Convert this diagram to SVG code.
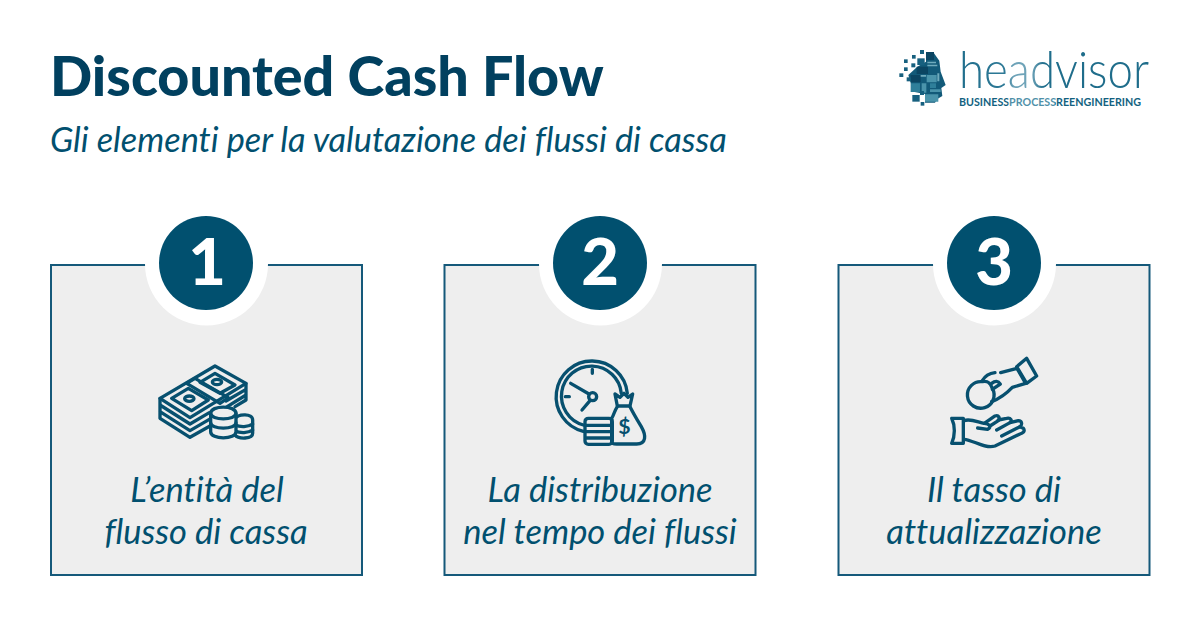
<svg xmlns="http://www.w3.org/2000/svg" width="1200" height="627" viewBox="0 0 1200 627">
<style>
.t{font-family:Lato,"Open Sans","Liberation Sans",sans-serif;font-variant-ligatures:none}
.box{fill:#eeeeee;stroke:#15597a;stroke-width:2}
.halo{fill:#fff}
.disc{fill:#01506f}
.num{font-size:65px;font-weight:900;fill:#fff;text-anchor:middle}
.lab{font-size:34.5px;font-style:italic;fill:#01506f;text-anchor:middle}
.ic{fill:none;stroke:#07506f;stroke-width:10;stroke-linecap:round;stroke-linejoin:round}
.f{fill:#eeeeee}
</style>
<defs>
<linearGradient id="hv" gradientUnits="userSpaceOnUse" x1="959" y1="0" x2="1149" y2="0">
<stop offset="0" stop-color="#1f6d8b"/><stop offset=".24" stop-color="#2f7a97"/><stop offset=".29" stop-color="#6ea3b8"/><stop offset=".38" stop-color="#6ea3b8"/><stop offset=".45" stop-color="#1f6d8b"/><stop offset="1" stop-color="#1f6d8b"/>
</linearGradient>
<linearGradient id="tag" gradientUnits="userSpaceOnUse" x1="959" y1="0" x2="1141" y2="0">
<stop offset="0" stop-color="#14607f"/><stop offset=".268" stop-color="#14607f"/><stop offset=".268" stop-color="#4f90a8"/><stop offset=".53" stop-color="#4f90a8"/><stop offset=".53" stop-color="#14607f"/><stop offset="1" stop-color="#14607f"/>
</linearGradient>
</defs>
<rect width="1200" height="627" fill="#fff"/>
<g id="header">
<text class="t" x="50" y="96" font-size="55.6" font-weight="900" fill="#01405f">Discounted Cash Flow</text>
<text class="t" x="50" y="152" font-size="34.3" font-style="italic" fill="#01506f">Gli elementi per la valutazione dei flussi di cassa</text>
</g>
<g id="logo">
<g transform="translate(880 30) scale(.3333)">
<path d="M138 66L162 70L178 92L182 125L197 165L184 174L187 198L172 207L165 218L135 218L135 192L100 185L85 135L112 110L138 95Z" fill="#125a79"/>
<path d="M138 66h24v24h-24zM110 110h34v22h-34zM92 135h30v22h-30z" fill="#0b4562"/>
<path d="M140 135h30v22h-30zM150 178h32v8h-32zM135 193h40v22h-40zM125 160h14v28h-14z" fill="#4a94ab"/>
<path d="M92 160h28v26h-28zM150 160h18v14h-18z" fill="#2f7f9a"/>
<path d="M142 95h26v5h-26M142 104h30v5h-30M122 135h16v5h-16M172 130h6v24h-6z" fill="#6fabbd"/>
<g fill="#17607f">
<rect x="120" y="60" width="12" height="12"/><rect x="96" y="75" width="11" height="11"/><rect x="72" y="88" width="11" height="11"/>
<rect x="112" y="85" width="22" height="20"/><rect x="94" y="100" width="12" height="12"/><rect x="72" y="112" width="11" height="11"/>
<rect x="58" y="130" width="12" height="11"/><rect x="80" y="142" width="12" height="12"/><rect x="120" y="183" width="12" height="12"/>
<rect x="97" y="195" width="22" height="20"/><rect x="122" y="216" width="11" height="11"/>
</g>
</g>
<text class="t" x="959" y="88" font-size="52" font-weight="300" fill="url(#hv)" textLength="190" lengthAdjust="spacingAndGlyphs">headvisor</text>
<text class="t" x="959" y="106" font-size="12" font-weight="700" fill="url(#tag)" textLength="182" lengthAdjust="spacingAndGlyphs">BUSINESSPROCESSREENGINEERING</text>
</g>

<g id="card-1">
<rect class="box" x="51" y="265" width="311" height="310"/>
<circle class="halo" cx="206.500" cy="264" r="61.500"/>
<circle class="disc" cx="206" cy="263" r="47"/>
<text class="t num" x="207" y="285">1</text>
<g transform="translate(140 350) scale(.3333)" class="ic">
<path d="M60 145L225 48L318 100L150 203Z"/>
<path d="M60 145V205L150 262L210 228M60 165L150 222L208 188M60 185L150 242L208 208"/>
<path d="M318 100V150L285 170M318 118L258 153M318 135L258 172"/>
<path d="M140 100L165 85L265 143L240 160Z"/>
<path d="M95 145L145 115L205 150L155 182ZM180 97L225 70L285 105L240 130Z"/>
<ellipse cx="148" cy="146" rx="14" ry="8"/><ellipse cx="231" cy="96" rx="14" ry="8"/>
<path class="f" d="M285 207C295 190 338 190 338 210V250C338 268 295 268 285 255Z"/>
<path d="M285 225C300 232 325 232 338 222M285 243C300 250 325 250 338 240"/>
<path class="f" d="M212 190C212 165 288 165 288 190V245C288 270 212 270 212 245Z"/>
<path d="M212 190C212 212 288 212 288 190M212 218C212 240 288 240 288 218"/>
</g>
<text class="t lab"><tspan x="207" y="502">L’entità del</tspan><tspan x="206" y="544">flusso di cassa</tspan></text>
</g>

<g id="card-2">
<rect class="box" x="444.500" y="265" width="311" height="310"/>
<circle class="halo" cx="600.500" cy="264" r="61.500"/>
<circle class="disc" cx="600" cy="263" r="47"/>
<text class="t num" x="600" y="285">2</text>
<g transform="translate(540 350) scale(.3333)" class="ic">
<path d="M130 244A107 107 0 1 1 262 130"/>
<path d="M130 225A90 90 0 1 1 244 130"/>
<path d="M157 58V70M76 140H88M92 100L147 132M126 180L150 152"/>
<circle cx="158" cy="140" r="12"/>
<path d="M225 132L240 142L252 130L264 142L278 132L270 168H232Z"/>
<path d="M232 170C222 185 222 195 215 205V275Q215 282 230 282H290C320 282 318 255 305 232C295 215 280 190 270 170"/>
<rect x="135" y="205" width="82" height="78" rx="10"/>
<path d="M137 226H215M137 245H215M137 264H215"/>
<text x="253" y="252" font-family="Lato,sans-serif" font-weight="700" font-size="64" fill="#07506f" stroke="none" text-anchor="middle">$</text>
</g>
<text class="t lab"><tspan x="600" y="502">La distribuzione</tspan><tspan x="600" y="544">nel tempo dei flussi</tspan></text>
</g>

<g id="card-3">
<rect class="box" x="838.500" y="265" width="311" height="310"/>
<circle class="halo" cx="994.500" cy="264" r="61.500"/>
<circle class="disc" cx="994" cy="263" r="47"/>
<text class="t num" x="994" y="285">3</text>
<g transform="translate(935 350) scale(.3333)" class="ic">
<path d="M245 50L275 25L305 78L275 100Z"/>
<path d="M197 68L246 55L272 100L232 112C215 130 195 145 170 155"/>
<path d="M180 68C165 70 150 78 142 92"/>
<path d="M170 100C180 92 190 92 196 102L172 118"/>
<path d="M172 115A40 40 0 1 1 142 95C155 92 165 95 172 115"/>
<path d="M50 205H85V280H50Q58 262 58 242Q58 222 50 205Z"/>
<path d="M87 212C105 205 125 215 148 220L180 198C192 194 195 205 190 210L215 205C228 202 232 212 225 218L250 212C262 212 262 225 255 230L265 235C272 245 262 250 255 252L180 288C150 298 115 270 87 268"/>
<path d="M148 220C165 222 170 232 158 238L128 234M190 212L165 228M225 218L185 240M255 230L200 258"/>
</g>
<text class="t lab"><tspan x="994" y="502">Il tasso di</tspan><tspan x="994" y="544">attualizzazione</tspan></text>
</g>
<g id="connectors"/>
</svg>
